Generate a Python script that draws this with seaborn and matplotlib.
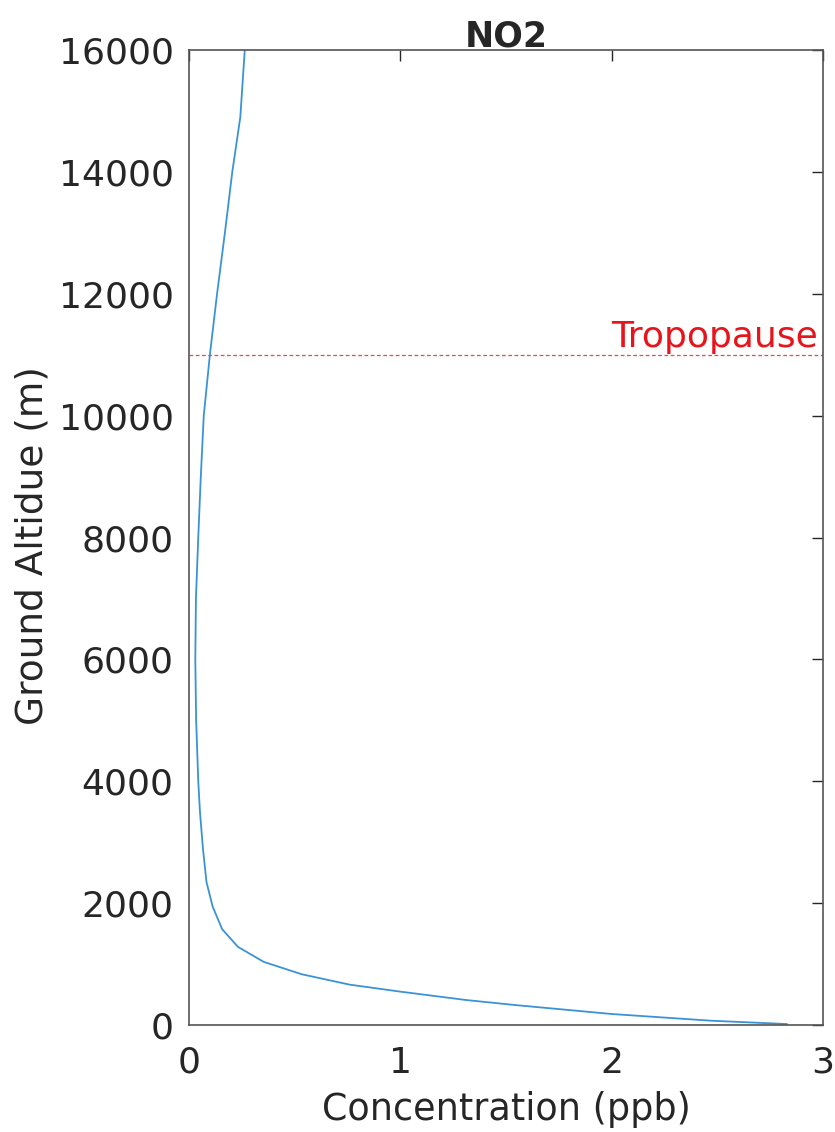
import matplotlib
matplotlib.use("Agg")
import matplotlib.pyplot as plt
import seaborn as sns
import pandas as pd

# NO2 profile
altitude_m = [16, 71, 181, 329, 411, 548, 663, 833, 1036, 1282, 1573, 1945,
              2345, 2900, 3500, 4000, 5000, 6000, 7000, 8000, 9000, 10000,
              11000, 12000, 13000, 14000, 14900, 16000]
conc_ppb = [2.83, 2.47, 2.00, 1.54, 1.31, 1.00, 0.76, 0.534, 0.354, 0.232,
            0.157, 0.112, 0.083, 0.066, 0.052, 0.044, 0.034, 0.030, 0.033,
            0.044, 0.056, 0.070, 0.099, 0.133, 0.170, 0.205, 0.243, 0.264]
tropopause_m = 11000
x_ticks = [0, 1, 2, 3]
y_ticks = list(range(0, 16001, 2000))

df = pd.DataFrame({"Concentration (ppb)": conc_ppb, "Ground Altidue (m)": altitude_m})

sns.set_style("white")
plt.rcParams['font.family'] = ['DejaVu Sans']

fig = plt.figure(figsize=(8.35, 11.32), dpi=100)
ax = fig.add_axes([0.2263, 0.0945, 0.7593, 0.8613])

sns.lineplot(data=df, x="Concentration (ppb)", y="Ground Altidue (m)",
             sort=False, estimator=None, color="#3A93D6", linewidth=1.3, ax=ax)

# tropopause marker
ax.axhline(tropopause_m, color="#EE4455", linestyle=(0, (3, 2)), linewidth=0.9)
ax.text(2.976, tropopause_m + 130, "Tropopause", color="#E8141B",
        fontsize=26, ha="right", va="baseline")

ax.set_xlim(0, 3)
ax.set_ylim(0, 16000)
ax.set_xticks(x_ticks)
ax.set_yticks(y_ticks)
ax.tick_params(direction="in", length=8, width=1, colors="#262626",
               labelsize=26, top=True, right=True)
ax.tick_params(axis="x", pad=15)
ax.tick_params(axis="y", pad=11)
for s in ax.spines.values():
    s.set_color("#555555")
    s.set_linewidth(1.2)

ax.set_xlabel("Concentration (ppb)", fontsize=26.3, color="#262626", labelpad=8)
ax.set_ylabel("Ground Altidue (m)", fontsize=27, color="#262626")
ax.yaxis.set_label_coords(-0.219, 0.492)
ax.set_title("NO2", fontsize=25, fontweight="bold", pad=2.5)

fig.savefig("out.png", dpi=100)
